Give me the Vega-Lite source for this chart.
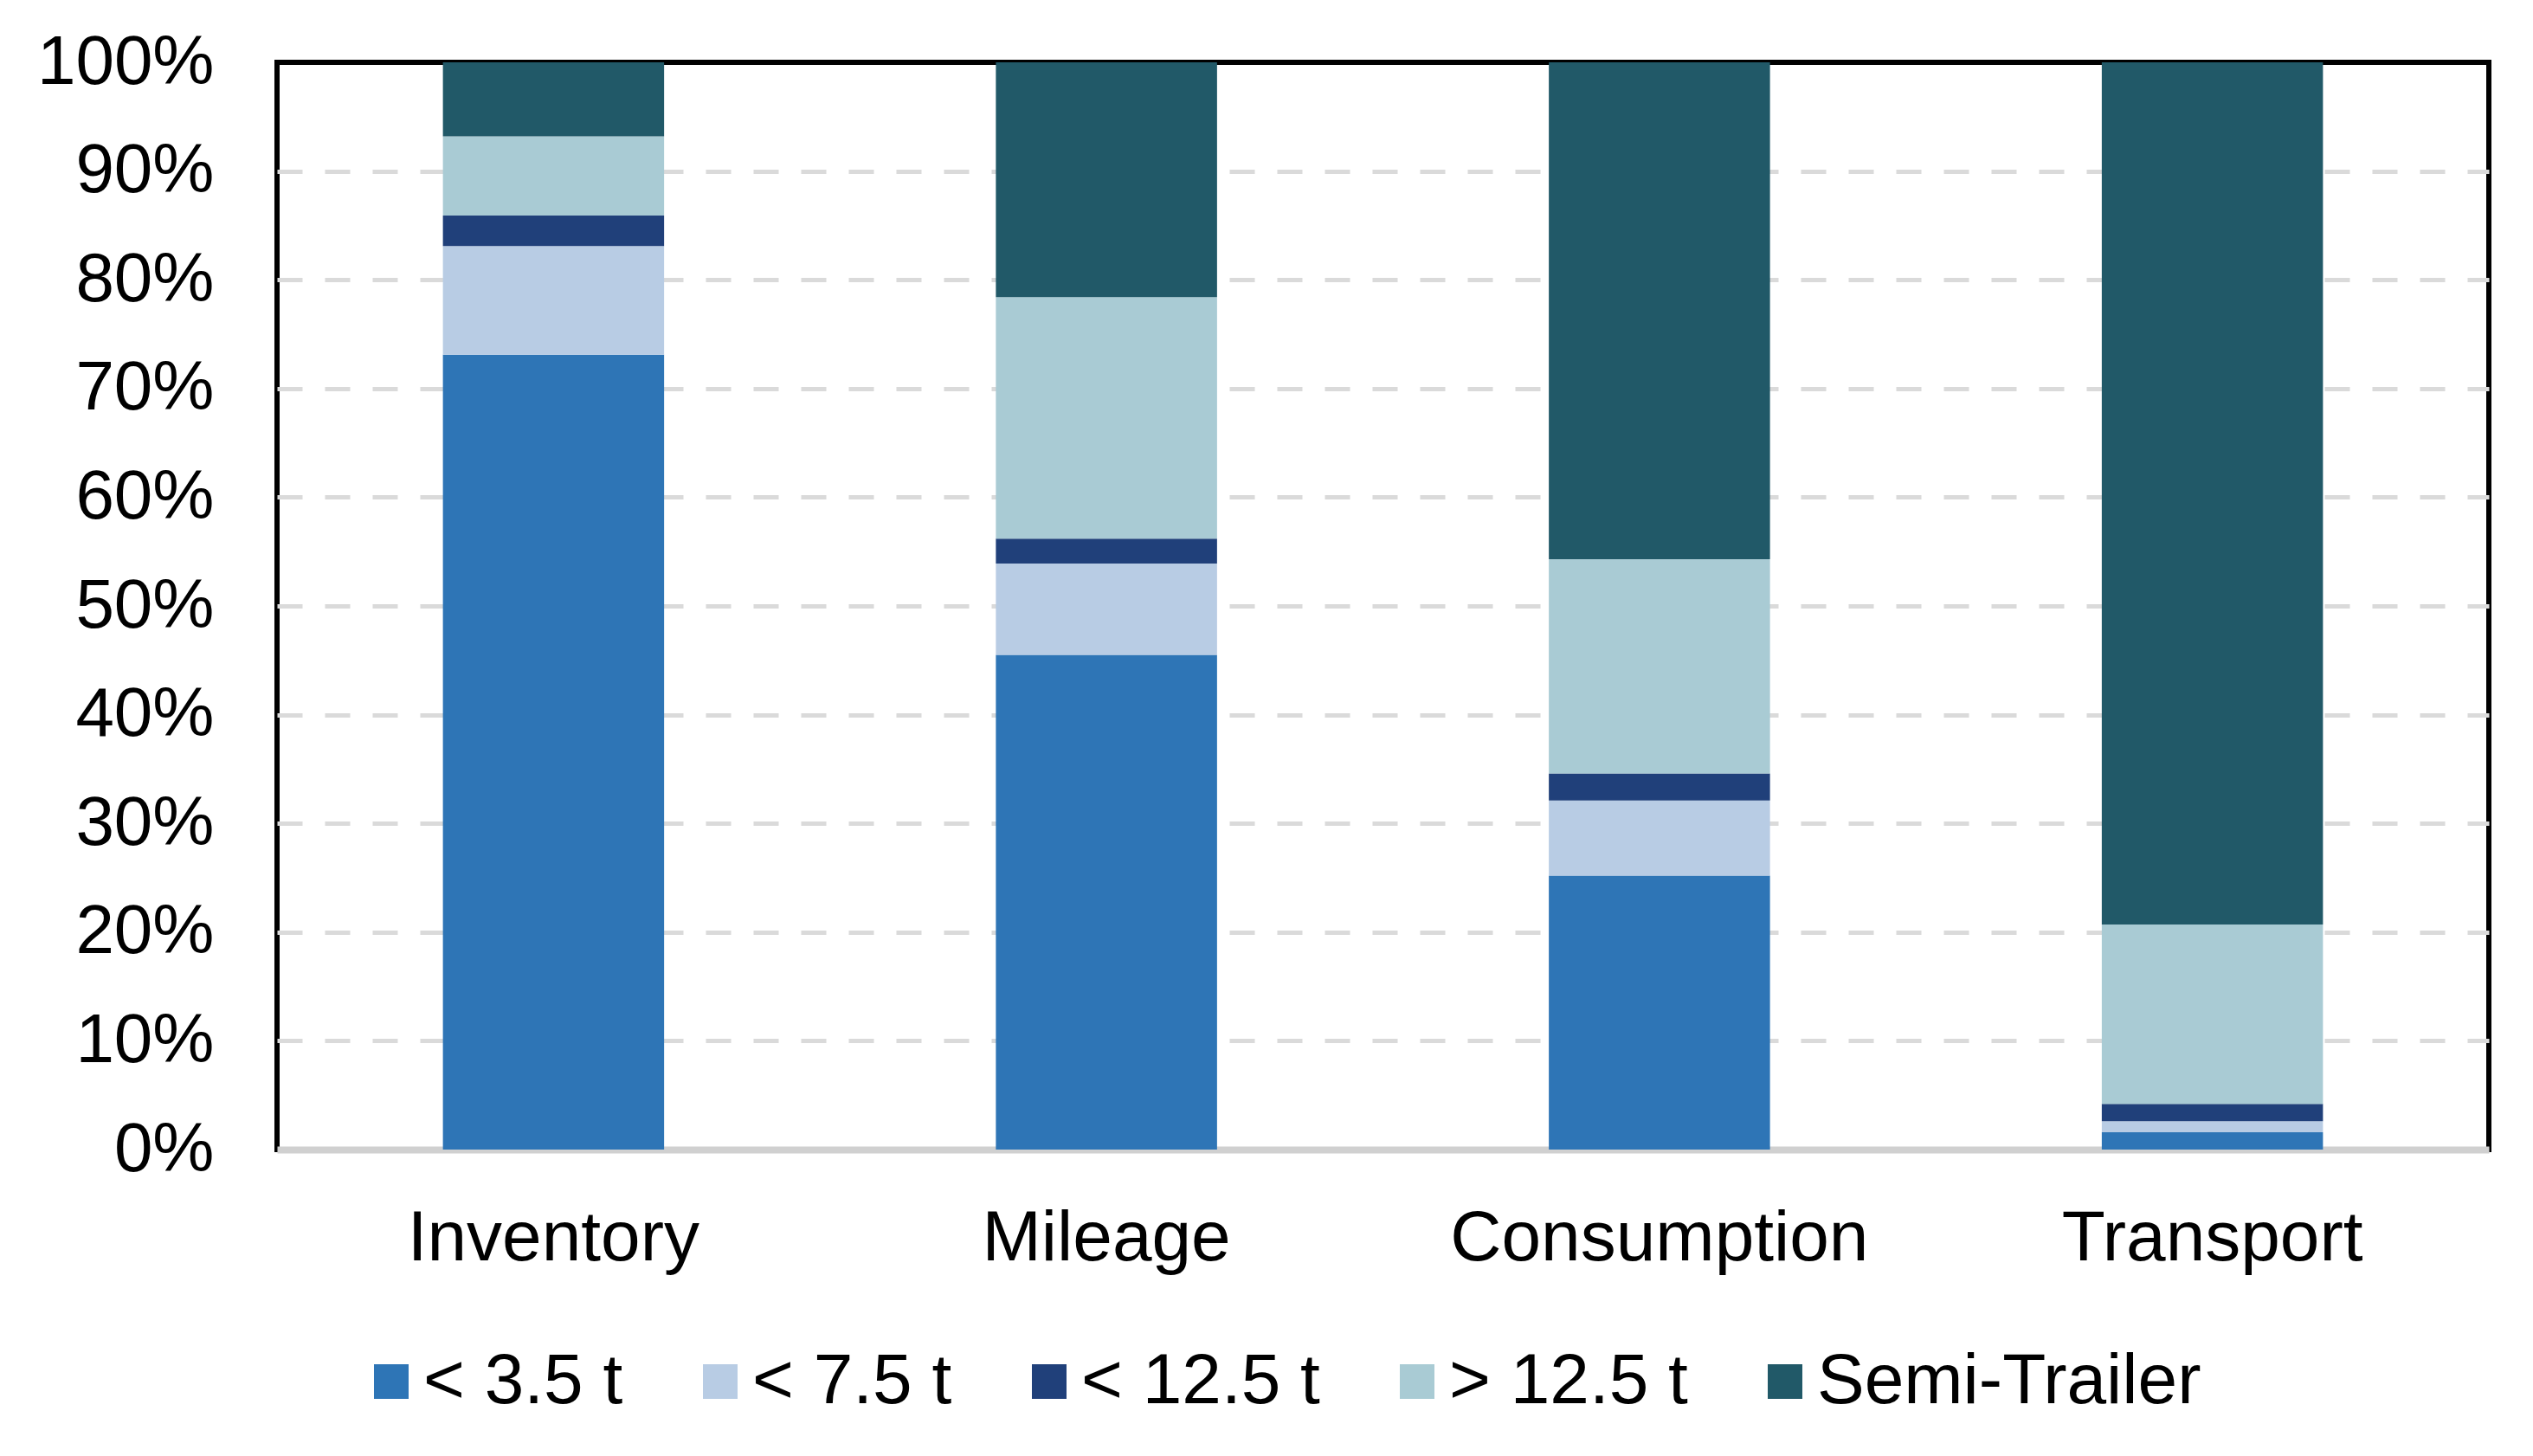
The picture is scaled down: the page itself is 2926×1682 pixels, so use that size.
{
  "$schema": "https://vega.github.io/schema/vega-lite/v6.json",
  "width": 2555,
  "height": 1256,
  "autosize": {"type": "none"},
  "padding": {"left": 320, "top": 72, "right": 51, "bottom": 354},
  "background": "white",
  "data": {
    "values": [
      {"measure": "Inventory", "class": "< 3.5 t", "k": 1, "share": 73.1},
      {"measure": "Inventory", "class": "< 7.5 t", "k": 2, "share": 10.0},
      {"measure": "Inventory", "class": "< 12.5 t", "k": 3, "share": 2.8},
      {"measure": "Inventory", "class": "> 12.5 t", "k": 4, "share": 7.3},
      {"measure": "Inventory", "class": "Semi-Trailer", "k": 5, "share": 6.8},
      {"measure": "Mileage", "class": "< 3.5 t", "k": 1, "share": 45.5},
      {"measure": "Mileage", "class": "< 7.5 t", "k": 2, "share": 8.4},
      {"measure": "Mileage", "class": "< 12.5 t", "k": 3, "share": 2.3},
      {"measure": "Mileage", "class": "> 12.5 t", "k": 4, "share": 22.2},
      {"measure": "Mileage", "class": "Semi-Trailer", "k": 5, "share": 21.6},
      {"measure": "Consumption", "class": "< 3.5 t", "k": 1, "share": 25.2},
      {"measure": "Consumption", "class": "< 7.5 t", "k": 2, "share": 6.9},
      {"measure": "Consumption", "class": "< 12.5 t", "k": 3, "share": 2.5},
      {"measure": "Consumption", "class": "> 12.5 t", "k": 4, "share": 19.7},
      {"measure": "Consumption", "class": "Semi-Trailer", "k": 5, "share": 45.7},
      {"measure": "Transport", "class": "< 3.5 t", "k": 1, "share": 1.6},
      {"measure": "Transport", "class": "< 7.5 t", "k": 2, "share": 1.0},
      {"measure": "Transport", "class": "< 12.5 t", "k": 3, "share": 1.6},
      {"measure": "Transport", "class": "> 12.5 t", "k": 4, "share": 16.5},
      {"measure": "Transport", "class": "Semi-Trailer", "k": 5, "share": 79.3}
    ]
  },
  "mark": {"type": "bar"},
  "encoding": {
    "x": {
      "field": "measure",
      "type": "nominal",
      "sort": ["Inventory", "Mileage", "Consumption", "Transport"],
      "scale": {"paddingInner": 0.6, "paddingOuter": 0.3},
      "axis": {
        "title": null,
        "labelAngle": 0,
        "ticks": false,
        "labelFontSize": 82,
        "labelPadding": 62,
        "labelLimit": 1000,
        "domainColor": "#D0D0D0",
        "domainWidth": 8
      }
    },
    "y": {
      "field": "share",
      "type": "quantitative",
      "stack": "zero",
      "scale": {"domain": [0, 100], "nice": false},
      "axis": {
        "title": null,
        "values": [0, 10, 20, 30, 40, 50, 60, 70, 80, 90, 100],
        "labelExpr": "datum.value + '%'",
        "domain": false,
        "ticks": false,
        "tickSize": 0,
        "labelPadding": 73,
        "labelFontSize": 80,
        "labelLimit": 1000,
        "grid": true,
        "gridDash": [29, 26],
        "gridColor": "#DADADA",
        "gridWidth": 5,
        "gridOpacity": {"condition": {"test": "datum.value === 0 || datum.value === 100", "value": 0}, "value": 1}
      }
    },
    "color": {
      "field": "class",
      "type": "nominal",
      "scale": {
        "domain": ["< 3.5 t", "< 7.5 t", "< 12.5 t", "> 12.5 t", "Semi-Trailer"],
        "range": ["#2E75B6", "#B8CCE4", "#20407A", "#A9CBD4", "#215968"]
      },
      "legend": {
        "orient": "none",
        "legendX": 91,
        "legendY": 1483,
        "direction": "horizontal",
        "title": null,
        "symbolType": "square",
        "symbolSize": 1600,
        "symbolStrokeWidth": 0,
        "labelFontSize": 82,
        "labelOffset": -4,
        "columnPadding": 71,
        "labelLimit": 1000,
        "padding": 0
      }
    },
    "order": {"field": "k", "type": "quantitative"}
  },
  "config": {
    "font": "Liberation Sans",
    "view": {"stroke": "#000000", "strokeWidth": 6},
    "axis": {"labelColor": "#000000"},
    "legend": {"labelColor": "#000000"}
  }
}
